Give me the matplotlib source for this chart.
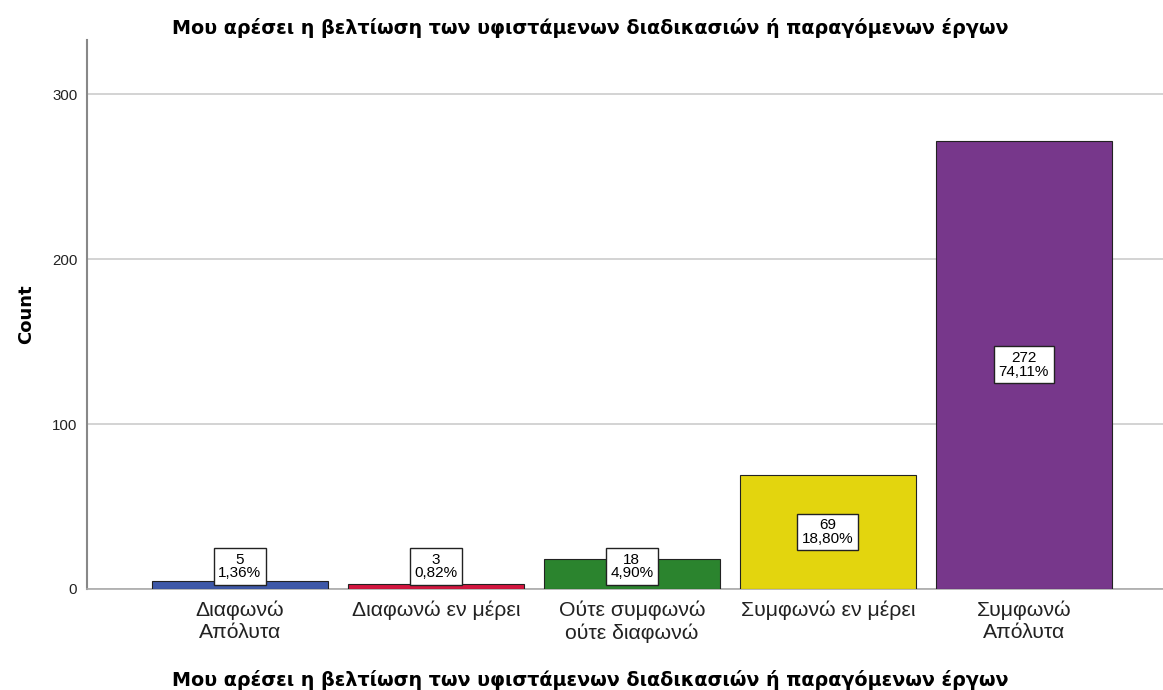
import matplotlib
matplotlib.use("Agg")
import matplotlib.pyplot as plt

categories = ["Διαφωνώ\nΑπόλυτα", "Διαφωνώ εν μέρει", "Ούτε συμφωνώ\nούτε διαφωνώ",
              "Συμφωνώ εν μέρει", "Συμφωνώ\nΑπόλυτα"]
counts = [5, 3, 18, 69, 272]
percents = ["1,36%", "0,82%", "4,90%", "18,80%", "74,11%"]
colors = ["#3E58A8", "#D3163F", "#2B842E", "#E3D50E", "#77378B"]
title = "Μου αρέσει η βελτίωση των υφιστάμενων διαδικασιών ή παραγόμενων έργων"

plt.rcParams['font.family'] = ['Liberation Sans', 'DejaVu Sans']
bold_family = ['DejaVu Sans']

fig = plt.figure(figsize=(11.63, 6.9), dpi=100)
ax = fig.add_axes([0.0748, 0.1464, 0.9252, 0.7956])

x = list(range(len(categories)))
ax.bar(x, counts, width=0.9, color=colors, edgecolor="#222222", linewidth=0.8, zorder=3)

for xi, c, p in zip(x, counts, percents):
    yc = max(c / 2, 13.5)
    ax.text(xi, yc, f"{c}\n{p}", ha="center", va="center", fontsize=11, zorder=5,
            linespacing=0.95,
            bbox=dict(boxstyle="square,pad=0.3", facecolor="white", edgecolor="#222222", linewidth=1))

ax.set_xlim(-0.78, 4.71)
ax.set_ylim(0, 333)
ax.set_yticks([0, 100, 200, 300])
ax.yaxis.grid(True, color="#cccccc", linewidth=1.2, zorder=0)
ax.set_axisbelow(True)
ax.set_xticks(x)
ax.set_xticklabels(categories, fontsize=15.3, linespacing=1.22, color="#222222")
ax.tick_params(axis="both", length=0)
ax.tick_params(axis="y", labelsize=10.8, pad=7, labelcolor="#222222")
ax.tick_params(axis="x", pad=8)

for s in ["top", "right"]:
    ax.spines[s].set_visible(False)
ax.spines["left"].set_color("#888888")
ax.spines["left"].set_linewidth(1.5)
ax.spines["bottom"].set_color("#aaaaaa")
ax.spines["bottom"].set_linewidth(1.2)

ax.set_ylabel("Count", fontsize=13, fontweight="bold", family=bold_family, labelpad=12)
ax.set_xlabel(title, fontsize=13.8, fontweight="bold", family=bold_family, labelpad=20)
ax.xaxis.set_label_coords(0.468, -0.148)
ax.set_title(title, fontsize=13.8, fontweight="bold", family=bold_family, pad=4, x=0.468)

fig.savefig("out.png", dpi=100)
